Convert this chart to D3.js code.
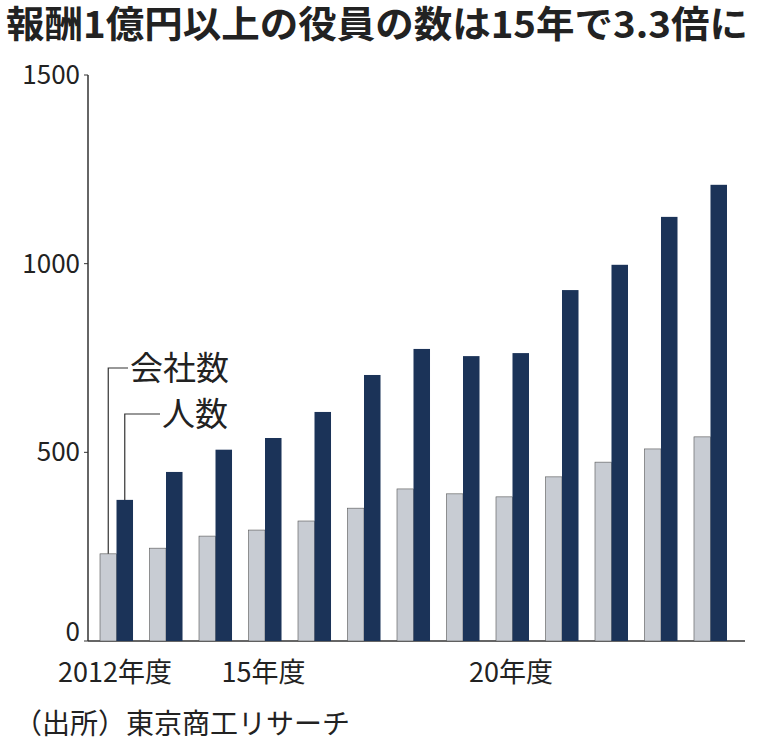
<!DOCTYPE html>
<html><head><meta charset="utf-8">
<script src="https://cdn.jsdelivr.net/npm/d3@7"></script>
<style>body{margin:0;background:#fff}text{font-family:"Noto Sans CJK JP",sans-serif}</style>
</head><body><div id="chart"></div>
<script>
const years = [2012,2013,2014,2015,2016,2017,2018,2019,2020,2021,2022,2023,2024];
const companies = [231,246,278,294,318,352,403,390,382,435,474,509,541];
const people = [374,448,507,538,607,705,774,755,763,930,997,1124,1209];
const yTicks = [0,500,1000,1500];
const xLabels = {2012:'2012年度',2015:'15年度',2020:'20年度'};

const svg = d3.select('#chart').append('svg').attr('width',764).attr('height',756);

svg.append('text').attr('x',6).attr('y',38).attr('font-size',37).attr('font-weight','bold')
  .attr('fill','#222').attr('textLength',742).attr('lengthAdjust','spacingAndGlyphs')
  .text('報酬1億円以上の役員の数は15年で3.3倍に');

const y = d3.scaleLinear().domain([0,1500]).range([641,75]);
const x = d3.scaleBand().domain(years).range([91.75,735.25]).paddingInner(0.333).paddingOuter(0.1667);
const half = x.bandwidth()/2;

svg.append('line').attr('x1',88).attr('x2',88).attr('y1',75).attr('y2',641).attr('stroke','#333').attr('stroke-width',1.5);
svg.append('line').attr('x1',88).attr('x2',745).attr('y1',641).attr('y2',641).attr('stroke','#333').attr('stroke-width',1.5);

svg.selectAll('.yt').data(yTicks).join('text')
  .attr('x',80).attr('y',d=> d===0 ? 641 : y(d)+9).attr('text-anchor','end')
  .attr('font-size',26).attr('fill','#222').text(d=>d);
svg.selectAll('.ytk').data(yTicks).join('line')
  .attr('x1',84).attr('x2',88).attr('y1',d=>y(d)).attr('y2',d=>y(d)).attr('stroke','#333');

svg.selectAll('.c').data(years).join('rect')
  .attr('x',d=>x(d)).attr('width',half).attr('y',(d,i)=>y(companies[i]))
  .attr('height',(d,i)=>641-y(companies[i])).attr('fill','#c8ccd3').attr('stroke','#555').attr('stroke-width',0.6);
svg.selectAll('.p').data(years).join('rect')
  .attr('x',d=>x(d)+half).attr('width',half).attr('y',(d,i)=>y(people[i]))
  .attr('height',(d,i)=>641-y(people[i])).attr('fill','#1b3358');

svg.selectAll('.xl').data(Object.keys(xLabels).map(Number)).join('text')
  .attr('x',d=>d===2012 ? 58 : x(d)-27).attr('y',682)
  .attr('font-size',27).attr('fill','#222').text(d=>xLabels[d]);

// legend leaders
const c0 = x(2012)+half/2, p0 = x(2012)+half*1.5;
svg.append('path').attr('d',`M${c0},${y(companies[0])}V368H128`).attr('fill','none').attr('stroke','#333').attr('stroke-width',1.2);
svg.append('path').attr('d',`M${p0},${y(people[0])}V414H160`).attr('fill','none').attr('stroke','#333').attr('stroke-width',1.2);
svg.append('text').attr('x',130).attr('y',380).attr('font-size',33).attr('fill','#222').text('会社数');
svg.append('text').attr('x',162).attr('y',426).attr('font-size',33).attr('fill','#222').text('人数');

svg.append('text').attr('x',14).attr('y',734).attr('font-size',28).attr('fill','#222').text('（出所）東京商工リサーチ');
</script></body></html>
